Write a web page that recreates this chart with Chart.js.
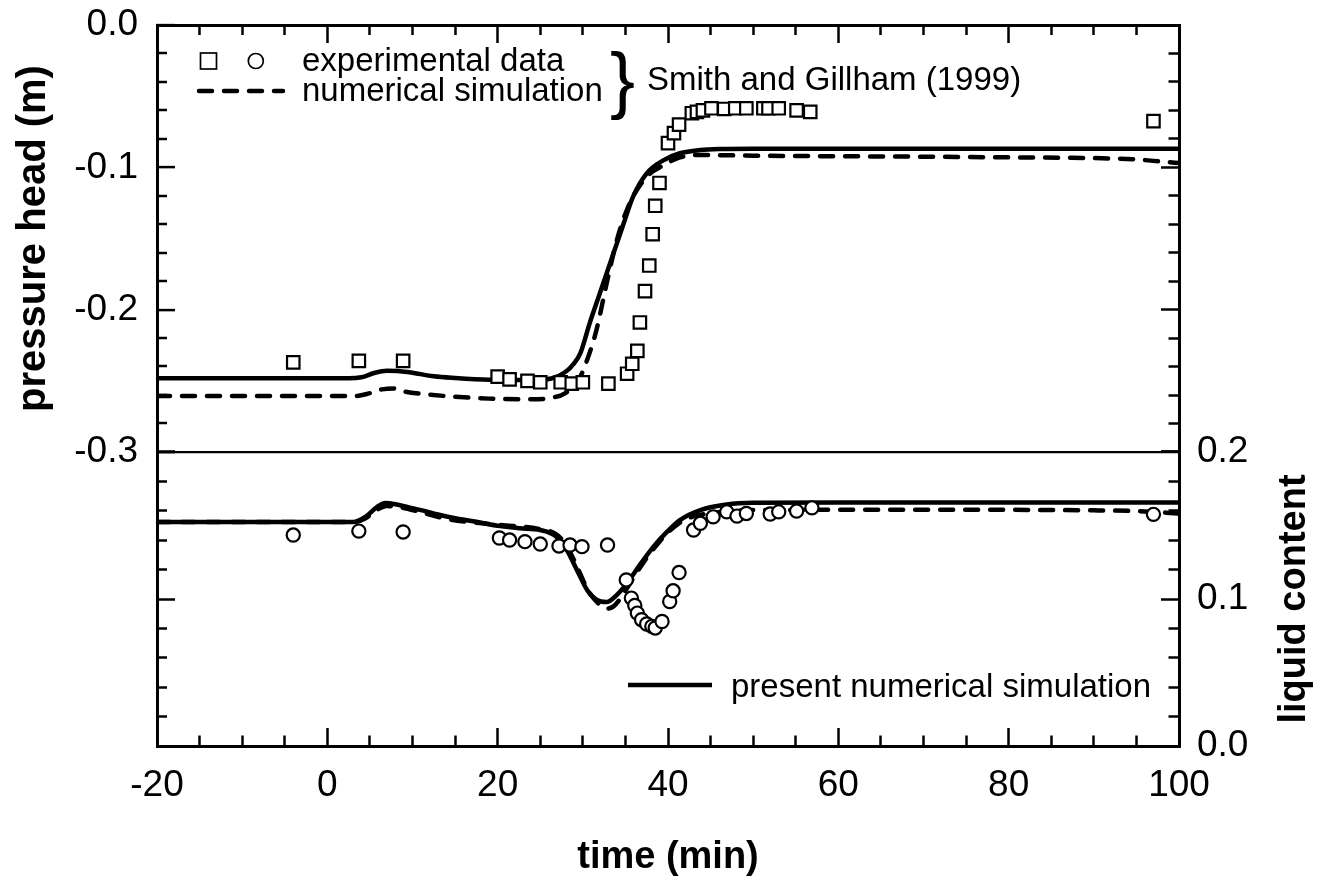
<!DOCTYPE html>
<html>
<head>
<meta charset="utf-8">
<script src="https://cdn.jsdelivr.net/npm/chart.js@4.4.1/dist/chart.umd.min.js"></script>
<style>
html,body{margin:0;padding:0;background:#fff;}
#wrap{position:relative;width:1320px;height:878px;}
canvas{display:block;}
</style>
</head>
<body>
<div id="wrap"><canvas id="c" width="1320" height="878"></canvas></div>
<script>
// ---------- data ----------
// experimental pressure head (squares)
const expPressureTime = [-4.0, 3.7, 8.9, 20.0, 21.4, 23.5, 25.0, 27.4, 28.7, 30.0, 33.0, 35.2, 35.8, 36.4, 36.7, 37.3, 37.8, 38.2, 38.5, 39.0, 40.0, 40.7, 41.3, 42.8, 43.4, 44.1, 45.1, 46.6, 47.9, 49.2, 51.2, 51.8, 53.0, 55.1, 56.7, 97.0];
const expPressureHead = [-0.237, -0.236, -0.236, -0.247, -0.249, -0.250, -0.251, -0.251, -0.252, -0.251, -0.252, -0.245, -0.238, -0.229, -0.209, -0.187, -0.169, -0.147, -0.127, -0.111, -0.083, -0.076, -0.070, -0.062, -0.061, -0.060, -0.0585, -0.059, -0.0585, -0.0585, -0.0585, -0.0585, -0.0585, -0.060, -0.061, -0.0675];

// present numerical simulation, pressure head (solid)
const simPressureTime = [-20, 2.5, 4, 5.5, 7, 8.5, 10, 12.5, 15, 19, 24, 26.3, 27.9, 29.0, 29.7, 30.8, 32.0, 33.6, 34.8, 35.9, 37.5, 39.5, 41.4, 43.8, 46.1, 50, 60, 80, 100];
const simPressureHead = [-0.2482, -0.2482, -0.2475, -0.2445, -0.2430, -0.2432, -0.2443, -0.2468, -0.2480, -0.2492, -0.2494, -0.2484, -0.2440, -0.2375, -0.2307, -0.2096, -0.1885, -0.1604, -0.1393, -0.1206, -0.1042, -0.0949, -0.0901, -0.0878, -0.0871, -0.0869, -0.0869, -0.0869, -0.0869];

// Smith and Gillham (1999) numerical simulation, pressure head (dashed)
const sgPressureTime = [-20, 3.2, 4.9, 6.4, 7.8, 9.1, 11.7, 14.8, 19.0, 23.7, 26.4, 27.9, 29.5, 30.5, 31.6, 32.8, 34.0, 35.5, 37.5, 39.5, 41.4, 43.4, 50, 60, 70, 80, 90, 95, 98, 100];
const sgPressureHead = [-0.2607, -0.2607, -0.2588, -0.2560, -0.2553, -0.2576, -0.2595, -0.2611, -0.2625, -0.2630, -0.2618, -0.2588, -0.2494, -0.2354, -0.2143, -0.1815, -0.1511, -0.1253, -0.1066, -0.0984, -0.0930, -0.0913, -0.0918, -0.0922, -0.0925, -0.0930, -0.0935, -0.0945, -0.0960, -0.0970];

// experimental liquid content (circles)
const expLiquidTime = [-4.0, 3.7, 8.9, 20.2, 21.4, 23.2, 25.0, 27.2, 28.5, 29.9, 32.9, 35.1, 35.7, 36.1, 36.4, 36.9, 37.5, 38.1, 38.5, 39.3, 40.2, 40.6, 41.3, 43.0, 43.8, 45.3, 46.9, 48.1, 49.2, 52.0, 53.0, 55.1, 56.9, 97.0];
const expLiquidContent = [0.1435, 0.1462, 0.1456, 0.1415, 0.1401, 0.1390, 0.1374, 0.1361, 0.1367, 0.1356, 0.1367, 0.1130, 0.1006, 0.0956, 0.0904, 0.0859, 0.0830, 0.0814, 0.0803, 0.0847, 0.0983, 0.1056, 0.1180, 0.1469, 0.1515, 0.1559, 0.1593, 0.1564, 0.1582, 0.1578, 0.1593, 0.1598, 0.1620, 0.1576];

// present numerical simulation, liquid content (solid)
const simLiquidTime = [-20, 3.0, 4.5, 5.8, 6.8, 8.0, 9.5, 11.0, 13.0, 15.0, 17.5, 20.3, 22.6, 25.0, 26.9, 28.1, 29.3, 30.5, 31.6, 32.8, 34.0, 35.2, 36.7, 38.3, 39.9, 41.4, 43.8, 46.9, 50.0, 60, 80, 100];
const simLiquidContent = [0.1523, 0.1523, 0.1560, 0.1625, 0.1653, 0.1645, 0.1625, 0.1605, 0.1575, 0.1550, 0.1525, 0.1496, 0.1481, 0.1469, 0.1424, 0.1334, 0.1198, 0.1062, 0.0995, 0.0979, 0.1028, 0.1108, 0.1232, 0.1356, 0.1458, 0.1537, 0.1605, 0.1643, 0.1654, 0.1656, 0.1656, 0.1656];

// Smith and Gillham (1999) numerical simulation, liquid content (dashed)
const sgLiquidTime = [-20, 3.0, 4.5, 5.8, 7.0, 8.5, 11.0, 14.0, 20.0, 25.0, 27.0, 28.2, 29.4, 30.6, 31.8, 32.8, 33.6, 34.6, 36.0, 37.5, 39.0, 40.5, 42.0, 44.0, 47.0, 50.0, 70, 90, 95, 100];
const sgLiquidContent = [0.1523, 0.1523, 0.1550, 0.1605, 0.1632, 0.1625, 0.1590, 0.1545, 0.1505, 0.1475, 0.1435, 0.1350, 0.1210, 0.1060, 0.0970, 0.0935, 0.0950, 0.1020, 0.1150, 0.1280, 0.1390, 0.1480, 0.1540, 0.1575, 0.1595, 0.1605, 0.1607, 0.1603, 0.1598, 0.1582];

// axis ranges / ticks
const timeRange = [-20, 100];
const timeMinorStep = 5, timeMajorStep = 20;
const pressureRange = [-0.3, 0.0];
const liquidRange = [0.0, 0.2];
const yMinorStep = 0.02, yMajorStep = 0.1;

// ---------- helpers ----------
const FONT = '"Liberation Sans", Arial, Helvetica, sans-serif';
Chart.defaults.font.family = FONT;
Chart.defaults.color = '#000';

const pts = (xs, ys) => xs.map((x, i) => ({x: x, y: ys[i]}));
const isMajor = (v, step) => Math.abs(v / step - Math.round(v / step)) < 1e-6;
const TICK = 18;

// inward ticks: majors full length, minors shortened with a dash pattern
function gridOpts(step, fromInside, extra) {
  return Object.assign({
    drawOnChartArea: false,
    drawTicks: true,
    tickLength: -TICK,
    tickColor: '#000',
    tickWidth: 2.5,
    tickBorderDash: c => (c.tick && !isMajor(c.tick.value, step)) ? (fromInside ? [0, 8, 13, 100] : [12.5, 100]) : [],
  }, extra || {});
}
const borderOpts = {display: true, color: '#000', width: 3};
const fitV = w => s => { s.width = w; s.paddingTop = 0; s.paddingBottom = 0; };
const fitH = h => s => { s.height = h; s.paddingLeft = 0; s.paddingRight = 0; };

const datasets = [
  {label: 'experimental data (pressure)', data: pts(expPressureTime, expPressureHead), yAxisID: 'yP',
   showLine: false, pointStyle: 'rect', pointRadius: 8.8, pointBorderWidth: 2.2,
   pointBackgroundColor: '#fff', pointBorderColor: '#000'},
  {label: 'experimental data (liquid)', data: pts(expLiquidTime, expLiquidContent), yAxisID: 'yL',
   showLine: false, pointStyle: 'circle', pointRadius: 6.6, pointBorderWidth: 2.2,
   pointBackgroundColor: '#fff', pointBorderColor: '#000'},
  {label: 'present numerical simulation (pressure)', data: pts(simPressureTime, simPressureHead), yAxisID: 'yP',
   showLine: true, pointRadius: 0, borderColor: '#000', borderWidth: 4.5, cubicInterpolationMode: 'monotone', borderJoinStyle: 'round'},
  {label: 'present numerical simulation (liquid)', data: pts(simLiquidTime, simLiquidContent), yAxisID: 'yL',
   showLine: true, pointRadius: 0, borderColor: '#000', borderWidth: 4.5, cubicInterpolationMode: 'monotone', borderJoinStyle: 'round'},
  {label: 'numerical simulation (pressure)', data: pts(sgPressureTime, sgPressureHead), yAxisID: 'yP',
   showLine: true, pointRadius: 0, borderColor: '#000', borderWidth: 4.5, borderDash: [13, 12], borderCapStyle: 'round',
   cubicInterpolationMode: 'monotone'},
  {label: 'numerical simulation (liquid)', data: pts(sgLiquidTime, sgLiquidContent), yAxisID: 'yL',
   showLine: true, pointRadius: 0, borderColor: '#000', borderWidth: 4.5, borderDash: [13, 12], borderCapStyle: 'round',
   cubicInterpolationMode: 'monotone'}
];
datasets.forEach(d => { d.xAxisID = 'x'; });

// custom legend + right axis title
const annotations = {
  id: 'annotations',
  afterDraw(chart) {
    const ctx = chart.ctx;
    const yL = chart.scales.yL;
    ctx.save();
    ctx.fillStyle = '#000';
    ctx.strokeStyle = '#000';
    // upper legend markers
    ctx.lineWidth = 1.7;
    ctx.strokeRect(200.5, 53, 16, 16);
    ctx.beginPath();
    ctx.arc(255.8, 61, 7.5, 0, Math.PI * 2);
    ctx.stroke();
    ctx.lineWidth = 4.5;
    ctx.lineCap = 'round';
    ctx.setLineDash([13, 12]);
    ctx.beginPath();
    ctx.moveTo(199, 91);
    ctx.lineTo(283, 91);
    ctx.stroke();
    ctx.setLineDash([]);
    ctx.textAlign = 'left';
    ctx.textBaseline = 'alphabetic';
    ctx.font = '33px ' + FONT;
    ctx.fillText('experimental data', 302, 71);
    ctx.fillText('numerical simulation', 302, 101);
    ctx.font = '75px ' + FONT;
    ctx.fillText('}', 610, 105);
    ctx.font = '33px ' + FONT;
    ctx.fillText('Smith and Gillham (1999)', 647, 90);
    // lower legend
    ctx.lineCap = 'butt';
    ctx.lineWidth = 4.5;
    ctx.beginPath();
    ctx.moveTo(628, 685);
    ctx.lineTo(712, 685);
    ctx.stroke();
    ctx.fillText('present numerical simulation', 731, 697);
    // right axis title (reads bottom to top)
    ctx.translate(1295, (yL.top + yL.bottom) / 2);
    ctx.rotate(-Math.PI / 2);
    ctx.textAlign = 'center';
    ctx.textBaseline = 'middle';
    ctx.font = 'bold 38px ' + FONT;
    ctx.fillText('liquid content', 0, 0);
    ctx.restore();
  }
};

new Chart(document.getElementById('c'), {
  type: 'scatter',
  data: {datasets: datasets},
  options: {
    responsive: false,
    animation: false,
    events: [],
    layout: {padding: 0},
    plugins: {legend: {display: false}, tooltip: {enabled: false}},
    scales: {
      x: {
        type: 'linear', position: 'bottom', min: timeRange[0], max: timeRange[1],
        border: borderOpts,
        grid: gridOpts(timeMajorStep, false),
        ticks: {stepSize: timeMinorStep, autoSkip: false, maxRotation: 0, padding: 36,
                font: {size: 37}, color: '#000',
                callback: v => isMajor(v, timeMajorStep) ? String(Math.round(v)) : ''},
        title: {display: true, text: 'time (min)', color: '#000',
                font: {size: 38, weight: 'bold', lineHeight: 1.1}, padding: {top: 0, bottom: 0}},
        afterFit: fitH(132)
      },
      x2: {
        type: 'linear', position: 'top', min: timeRange[0], max: timeRange[1],
        border: borderOpts,
        grid: gridOpts(timeMajorStep, true),
        ticks: {display: false, stepSize: timeMinorStep, autoSkip: false},
        afterFit: fitH(25)
      },
      yLL: {
        type: 'linear', position: 'left', stack: 'L', stackWeight: 294,
        min: liquidRange[0], max: liquidRange[1],
        border: borderOpts,
        grid: gridOpts(yMajorStep, true),
        ticks: {display: false, stepSize: yMinorStep, autoSkip: false},
        afterFit: fitV(157)
      },
      yP: {
        type: 'linear', position: 'left', stack: 'L', stackWeight: 427,
        min: pressureRange[0], max: pressureRange[1],
        border: borderOpts,
        grid: gridOpts(yMajorStep, true, {
          drawOnChartArea: true,
          color: c => (c.tick && Math.abs(c.tick.value - pressureRange[0]) < 1e-9) ? '#000' : 'rgba(0,0,0,0)',
          lineWidth: 2.2
        }),
        ticks: {stepSize: yMinorStep, autoSkip: false, padding: 37, font: {size: 37}, color: '#000',
                callback: v => isMajor(v, yMajorStep) ? (Math.abs(v) < 1e-9 ? '0.0' : v.toFixed(1)) : ''},
        title: {display: true, text: 'pressure head (m)', color: '#000',
                font: {size: 40, weight: 'bold', lineHeight: 1.2}, padding: {top: 10, bottom: 0}},
        afterFit: fitV(157)
      },
      yPR: {
        type: 'linear', position: 'right', stack: 'R', stackWeight: 427,
        min: pressureRange[0], max: pressureRange[1],
        border: borderOpts,
        grid: gridOpts(yMajorStep, false),
        ticks: {display: false, stepSize: yMinorStep, autoSkip: false},
        afterFit: fitV(141)
      },
      yL: {
        type: 'linear', position: 'right', stack: 'R', stackWeight: 294,
        min: liquidRange[0], max: liquidRange[1],
        border: borderOpts,
        grid: gridOpts(yMajorStep, false),
        ticks: {stepSize: yMinorStep, autoSkip: false, padding: 36, font: {size: 37}, color: '#000',
                callback: v => isMajor(v, yMajorStep) ? v.toFixed(1) : ''},
        afterFit: fitV(141)
      }
    }
  },
  plugins: [annotations]
});
</script>
</body>
</html>
